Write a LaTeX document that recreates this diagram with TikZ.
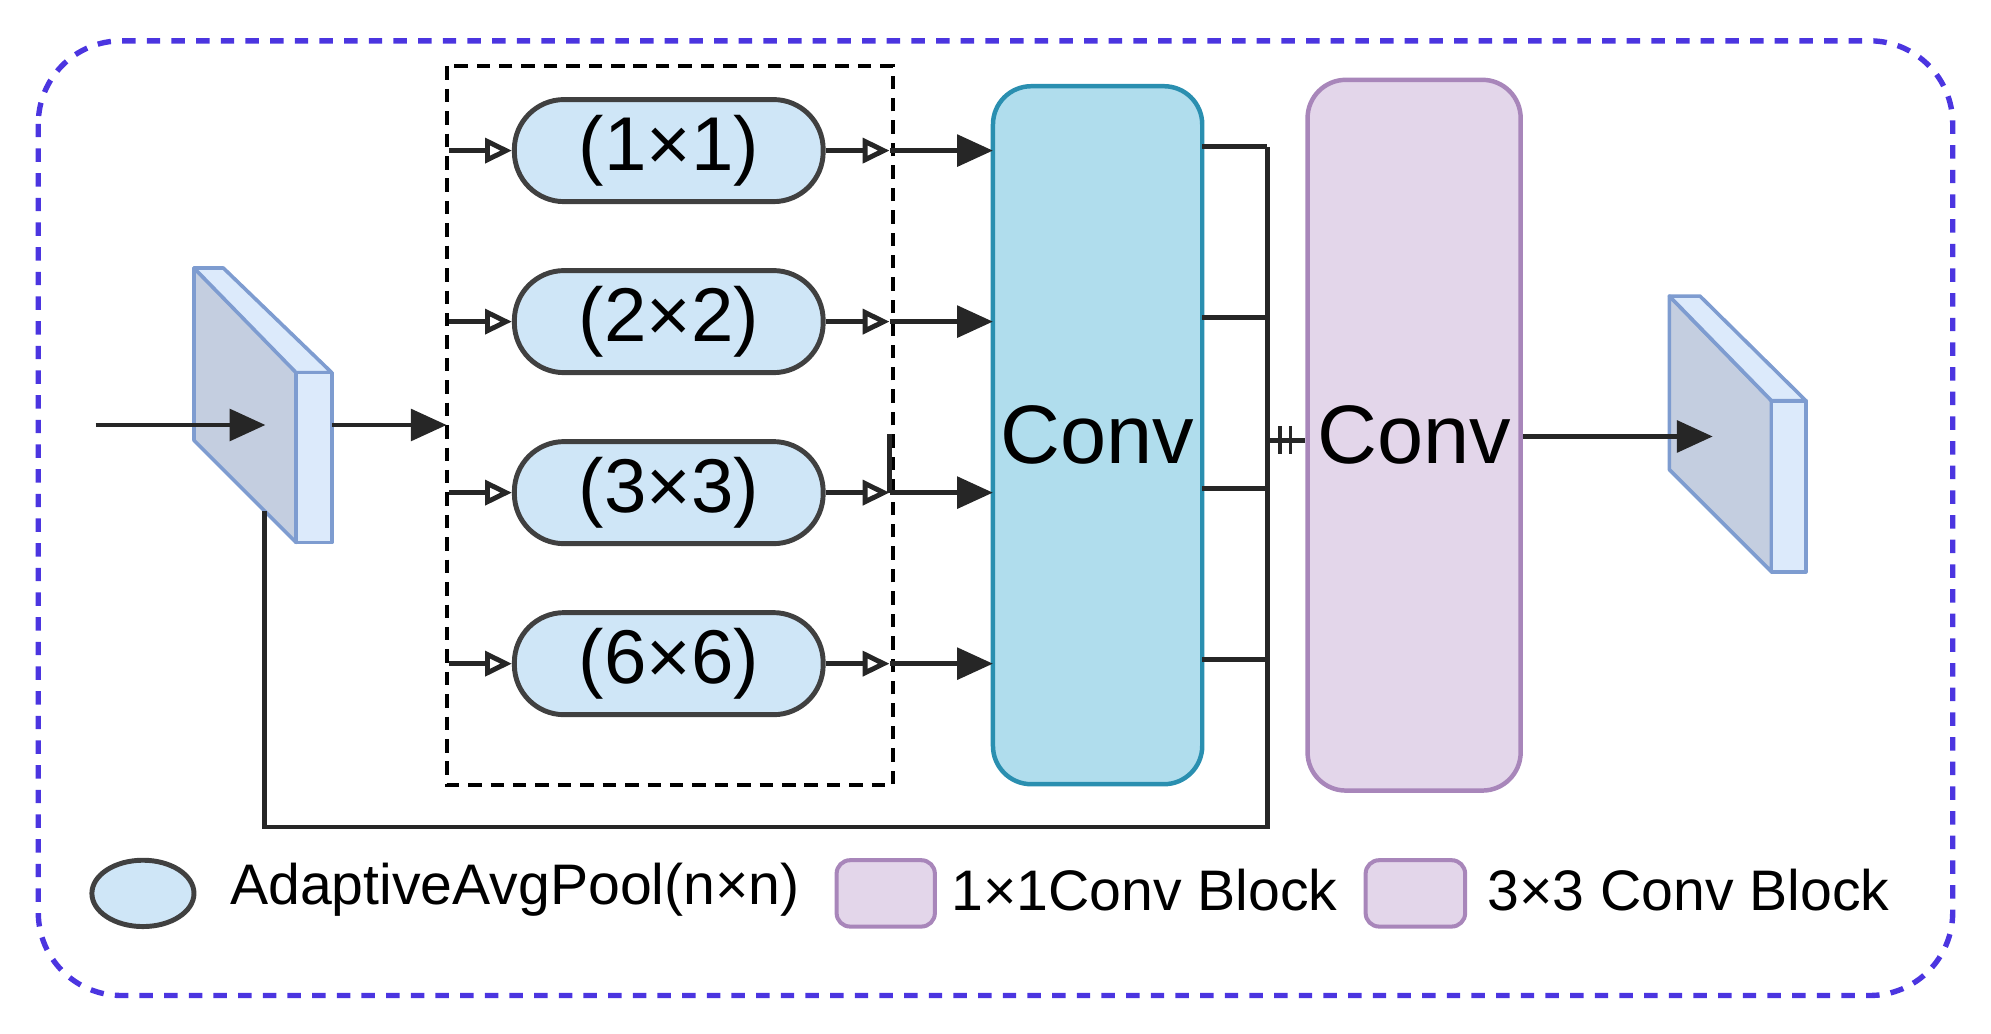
\documentclass[tikz,border=0pt]{standalone}
\usepackage{fontspec}
\setmainfont{Liberation Sans}
\usetikzlibrary{arrows.meta,shapes.geometric}
\definecolor{pool}{HTML}{CFE6F7}
\definecolor{convA}{HTML}{B0DDED}
\definecolor{convAd}{HTML}{2A8FB0}
\definecolor{convB}{HTML}{E3D6EA}
\definecolor{convBd}{HTML}{A886BA}
\definecolor{slabL}{HTML}{C4CEE0}
\definecolor{slabF}{HTML}{DCEAFB}
\definecolor{slabD}{HTML}{7E9CD0}
\definecolor{outer}{HTML}{4B35E0}
\tikzset{
  pool/.style={draw=black!75,line width=2.2pt,fill=pool,rounded corners=0.78cm,minimum width=4.84cm,minimum height=1.6cm,inner sep=0pt,font=\fontsize{34}{34}\selectfont},
  conv/.style={line width=2pt,rounded corners=0.6cm,inner sep=0pt,font=\fontsize{37}{37}\selectfont},
  line/.style={line width=2.2pt,black!85},
  arr/.style={line,-{Triangle[length=16pt,width=14pt]}},
  oarr/.style={line,-{Triangle[open,length=12pt,width=11pt]}},
  slab/.style={draw=slabD,line width=1.6pt,line join=round},
  leg/.style={font=\fontsize{25.5}{25.5}\selectfont,anchor=west,inner sep=0pt}
}
\begin{document}
\begin{tikzpicture}[x=0.02cm,y=-0.02cm]
\useasboundingbox (0,0) rectangle (1560,810);
\draw[outer,line width=2.4pt,dash pattern=on 6pt off 5pt,rounded corners=1.3cm] (30,32) rectangle (1530,780);
\draw[line width=1.8pt,dash pattern=on 6pt off 4pt] (350,52) rectangle (700,615);
% input slab
\fill[slabL,slab] (152,210) -- (232,290) -- (232,425) -- (152,345) -- cycle;
\fill[slabF,slab] (152,210) -- (175,210) -- (260,292) -- (232,292) -- cycle;
\fill[slabF,slab] (232,292) rectangle (260,425);
% output slab
\fill[slabL,slab] (1308,232) -- (1388,314) -- (1388,448) -- (1308,368) -- cycle;
\fill[slabF,slab] (1308,232) -- (1332,232) -- (1415,314) -- (1388,314) -- cycle;
\fill[slabF,slab] (1388,314) rectangle (1415,448);
\coordinate (in0) at (75,333); \coordinate (in1) at (208,333);
\coordinate (s0) at (260,333); \coordinate (s1) at (350,333);
\coordinate (o0) at (1192,342); \coordinate (o1) at (1342,342);
\draw[arr] (in0) -- (in1);
\draw[arr] (s0) -- (s1);
\draw[arr] (o0) -- (o1);
% convs
\node[conv,draw=convAd,fill=convA,minimum width=3.28cm,minimum height=10.94cm] (c1) at (860,341) {Conv};
\node[conv,draw=convBd,fill=convB,minimum width=3.34cm,minimum height=11.14cm] (c2) at (1108,341) {Conv};
% pools
\foreach \n/\y/\t in {a/118/(1×1),b/252/(2×2),c/386/(3×3),d/520/(6×6)}{
  \node[pool] (p\n) at (524,\y) {\t};
  \coordinate (l\n) at (352,\y);
  \coordinate (r\n) at (697,\y);
  \coordinate (k\n) at (778,\y);
  \coordinate (m\n) at (942,\y-3);
  \coordinate (j\n) at (993,\y-3);
  \draw[oarr] (l\n) -- (p\n.west);
  \draw[oarr] (p\n.east) -- (r\n);
  \draw[arr] (r\n) -- (k\n);
  \draw[line] (m\n) -- (j\n);
}
\coordinate (v0) at (697,340);
\draw[line] (v0) -- (rc);
\coordinate (b0) at (207,400); \coordinate (b1) at (207,648); \coordinate (b2) at (993,648);
\draw[line] (b0) -- (b1) -- (b2) -- (ja);
\coordinate (t0) at (993,345);
\draw[line] (t0) -- (c2.west |- t0);
\draw[line,line width=1.6pt] (1003,334) -- (1003,356) (1011,334) -- (1011,356);
% legend
\node[draw=black!75,line width=2.2pt,fill=pool,ellipse,minimum width=1.6cm,minimum height=1.04cm,inner sep=0pt] (g1) at (112,700) {};
\node[leg] (t1) at (180,697) {AdaptiveAvgPool(n×n)};
\node[draw=convBd,line width=1.8pt,fill=convB,rounded corners=6pt,minimum width=1.54cm,minimum height=1.04cm] (g2) at (694,700) {};
\node[leg] (t2) at (745,697) {1×1Conv Block};
\node[draw=convBd,line width=1.8pt,fill=convB,rounded corners=6pt,minimum width=1.56cm,minimum height=1.04cm] (g3) at (1109,700) {};
\node[leg] (t3) at (1165,697) {3×3 Conv Block};
\end{tikzpicture}
\end{document}
